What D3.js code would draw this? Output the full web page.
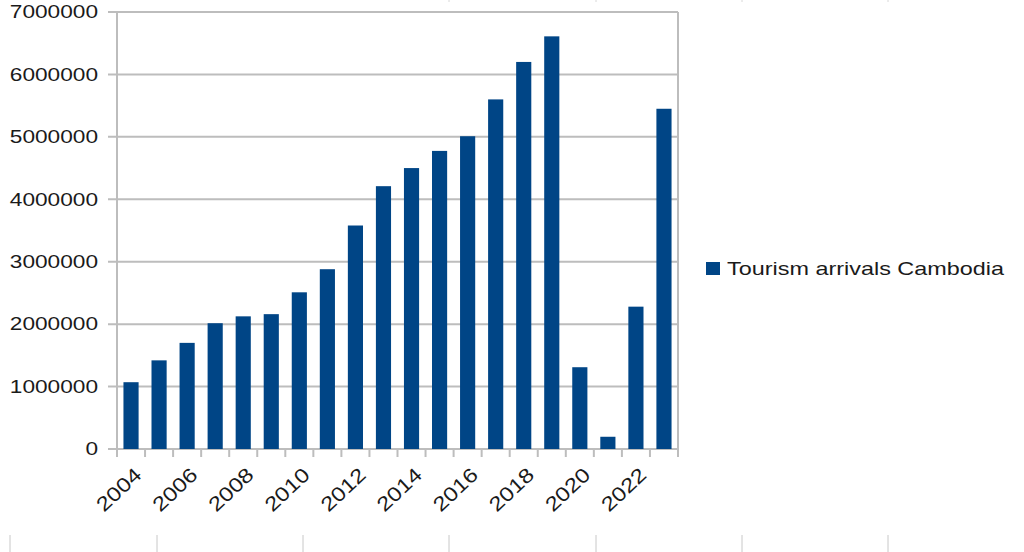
<!DOCTYPE html>
<html><head><meta charset="utf-8">
<script src="https://cdn.jsdelivr.net/npm/d3@7"></script>
<style>body{margin:0;background:#fff;} text{font-family:"Liberation Sans",Arial,sans-serif;fill:#1a1a1a;}</style>
</head><body><svg id="c" width="1024" height="552"></svg>
<script>
const years = ["2004","2005","2006","2007","2008","2009","2010","2011","2012","2013","2014","2015","2016","2017","2018","2019","2020","2021","2022","2023"];
const arrivals = [1070000,1420000,1700000,2015000,2125000,2160000,2510000,2880000,3580000,4210000,4500000,4775000,5010000,5600000,6200000,6610000,1310000,196000,2280000,5450000];
const yTicks = [0,1000000,2000000,3000000,4000000,5000000,6000000,7000000];
const seriesName = "Tourism arrivals Cambodia";

const svg = d3.select("#c");
const L=117, R=678, T=12, B=449;
const y = d3.scaleLinear().domain([0,7000000]).range([B,T]);
const pIn = 0.46;
const x = d3.scaleBand().domain(years).range([L,R]).paddingInner(pIn).paddingOuter(pIn/2);
const step = x.step();
const grid = "#bdbdbd";

// page decoration marks
const deco = [10,157,303,449,596,742,888];
svg.append("g").selectAll("line").data(deco).join("line")
  .attr("x1",d=>d).attr("x2",d=>d).attr("y1",535).attr("y2",552)
  .attr("stroke","#c8c8c8").attr("stroke-width",1);
svg.append("g").selectAll("line").data(deco.slice(3)).join("line")
  .attr("x1",d=>d).attr("x2",d=>d).attr("y1",0).attr("y2",2)
  .attr("stroke","#d8d8d8").attr("stroke-width",1);

// gridlines
svg.append("g").selectAll("line").data(yTicks).join("line")
  .attr("x1",L-9).attr("x2",R).attr("y1",d=>y(d)).attr("y2",d=>y(d))
  .attr("stroke",grid).attr("stroke-width",2);
// right border
svg.append("line").attr("x1",R).attr("x2",R).attr("y1",T).attr("y2",B+8)
  .attr("stroke",grid).attr("stroke-width",2);
// left axis
svg.append("line").attr("x1",L).attr("x2",L).attr("y1",T).attr("y2",B+8)
  .attr("stroke",grid).attr("stroke-width",2);

// bars
svg.append("g").selectAll("rect").data(years).join("rect")
  .attr("x",d=>x(d)).attr("width",x.bandwidth())
  .attr("y",(d,i)=>y(arrivals[i])).attr("height",(d,i)=>y(0)-y(arrivals[i]))
  .attr("fill","#004586");

// x boundary ticks
const bounds = years.map(d=>x(d)-step*pIn/2).concat([R]);
svg.append("g").selectAll("line").data(bounds).join("line")
  .attr("x1",d=>d).attr("x2",d=>d).attr("y1",B).attr("y2",B+8)
  .attr("stroke",grid).attr("stroke-width",2);

// y labels via axis
const ya = svg.append("g").attr("transform",`translate(${L-19},0)`)
  .call(d3.axisLeft(y).tickValues(yTicks).tickSize(0).tickPadding(0).tickFormat(d3.format("d")));
ya.select(".domain").remove();
ya.selectAll("text").attr("font-size",18).attr("fill","#1a1a1a")
  .attr("font-family","Liberation Sans, Arial, sans-serif")
  .attr("textLength",function(){return this.textContent.length*12.6;})
  .attr("lengthAdjust","spacingAndGlyphs");

// x labels
svg.append("g").selectAll("text").data(years.filter((d,i)=>i%2===0)).join("text")
  .attr("transform",d=>`translate(${x(d)+x.bandwidth()/2+2},${B+17}) rotate(-43)`)
  .attr("text-anchor","end").attr("dy","0.72em")
  .attr("font-size",20).attr("textLength",53).attr("lengthAdjust","spacingAndGlyphs")
  .text(d=>d);

// legend
svg.append("rect").attr("x",706).attr("y",262).attr("width",14).attr("height",13).attr("fill","#004586");
svg.append("text").attr("x",727).attr("y",275).attr("font-size",19)
  .attr("textLength",277).attr("lengthAdjust","spacingAndGlyphs").text(seriesName);
</script></body></html>
